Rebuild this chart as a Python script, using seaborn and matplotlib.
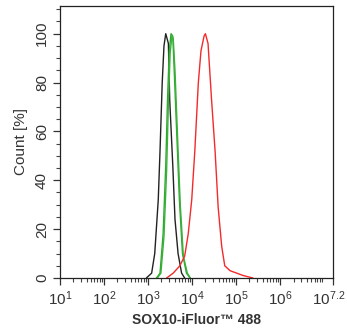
# Flow cytometry histogram: SOX10-iFluor 488 staining
import numpy as np
import pandas as pd
import matplotlib
matplotlib.use("Agg")
import matplotlib.pyplot as plt
import matplotlib.ticker as mticker
import matplotlib.transforms as mtrans
import seaborn as sns

# log10 fluorescence and count (%)
black_log = [2.96, 3.08, 3.15, 3.23, 3.27, 3.32, 3.36, 3.40, 3.46, 3.49, 3.56, 3.61, 3.68, 3.76, 3.83]
black_pct = [0, 2, 10, 32, 52, 80, 95, 100, 96, 73, 46, 24, 10, 2, 0]

green_log = [3.19, 3.27, 3.34, 3.40, 3.44, 3.48, 3.52, 3.56, 3.59, 3.65, 3.71, 3.78, 3.87, 3.95]
green_pct = [0, 2, 18, 46, 73, 93, 100, 99, 86, 59, 32, 10, 2, 0]

green2_log = [3.21, 3.29, 3.36, 3.42, 3.46, 3.50, 3.54, 3.57, 3.61, 3.67, 3.73, 3.80, 3.89, 3.96]
green2_pct = [0, 2, 17, 44, 71, 92, 99, 98, 85, 57, 30, 9, 2, 0]

red_log = [3.42, 3.57, 3.72, 3.83, 3.91, 3.99, 4.06, 4.10, 4.14, 4.20, 4.27, 4.30,
           4.36, 4.44, 4.52, 4.59, 4.67, 4.74, 4.86, 5.01, 5.16, 5.38]
red_pct = [0, 2, 5, 9, 18, 32, 52, 66, 80, 93, 99, 100,
           96, 73, 52, 29, 13, 5, 3, 2, 1, 0]

tick_pos = [1, 2, 3, 4, 5, 6, 7.2]
tick_lbl = ["$10^{1}$", "$10^{2}$", "$10^{3}$", "$10^{4}$", "$10^{5}$", "$10^{6}$", "$10^{7.2}$"]
y_ticks = [0, 20, 40, 60, 80, 100]

sns.set_style("ticks")
plt.rcParams['font.family'] = ['Liberation Sans', 'DejaVu Sans']
plt.rcParams['mathtext.fontset'] = 'custom'
plt.rcParams['mathtext.rm'] = 'Liberation Sans'
plt.rcParams['mathtext.it'] = 'Liberation Sans'

fig = plt.figure(figsize=(3.47, 3.29), dpi=100)
ax = fig.add_axes([0.173, 0.155, 0.787, 0.828])

curves = [(black_log, black_pct, "#222222"),
          (green_log, green_pct, "#2ea82e"),
          (green2_log, green2_pct, "#3cb03c"),
          (red_log, red_pct, "#f42a2a")]
for lg, pct, col in curves:
    df = pd.DataFrame({"x": np.power(10.0, lg), "y": pct})
    sns.lineplot(data=df, x="x", y="y", ax=ax, color=col, linewidth=1.0, sort=False)

ax.set_xscale("log")
ax.set_xlim(10 ** 1, 10 ** 7.2)
ax.set_ylim(0, 111.5)

ax.set_xticks([10 ** t for t in tick_pos])
ax.set_xticklabels(tick_lbl)
minor_x = [m * 10 ** d for d in range(1, 8) for m in range(2, 10) if m * 10 ** d < 10 ** 7.2]
ax.set_xticks(minor_x, minor=True)
ax.xaxis.set_minor_formatter(mticker.NullFormatter())

ax.set_yticks(y_ticks)
ax.set_yticks(np.arange(0, 111, 5), minor=True)
for lab in ax.get_yticklabels():
    lab.set_rotation(90)
    lab.set_va("center")

ax.tick_params(axis="x", which="both", bottom=True, top=False)
ax.tick_params(axis="y", which="both", left=True, right=False)
ax.tick_params(axis="both", which="major", direction="out", length=5, width=0.9,
               labelsize=11, color="#333333", labelcolor="#333333", pad=3)
ax.tick_params(axis="both", which="minor", direction="out", length=3, width=0.8,
               color="#444444")

# pull the last x label a little left so it stays on the canvas
last = ax.get_xticklabels()[-1]
last.set_transform(last.get_transform() + mtrans.ScaledTranslation(-4 / 100, 0, fig.dpi_scale_trans))

for sp in ax.spines.values():
    sp.set_visible(True)
    sp.set_linewidth(0.9)
    sp.set_color("#222222")

ax.set_xlabel("SOX10-iFluor\u2122 488", fontsize=10, fontweight="bold", color="#333333", labelpad=4)
ax.set_ylabel("Count [%]", fontsize=11, color="#333333", labelpad=5)

fig.savefig("out.png", dpi=100)
